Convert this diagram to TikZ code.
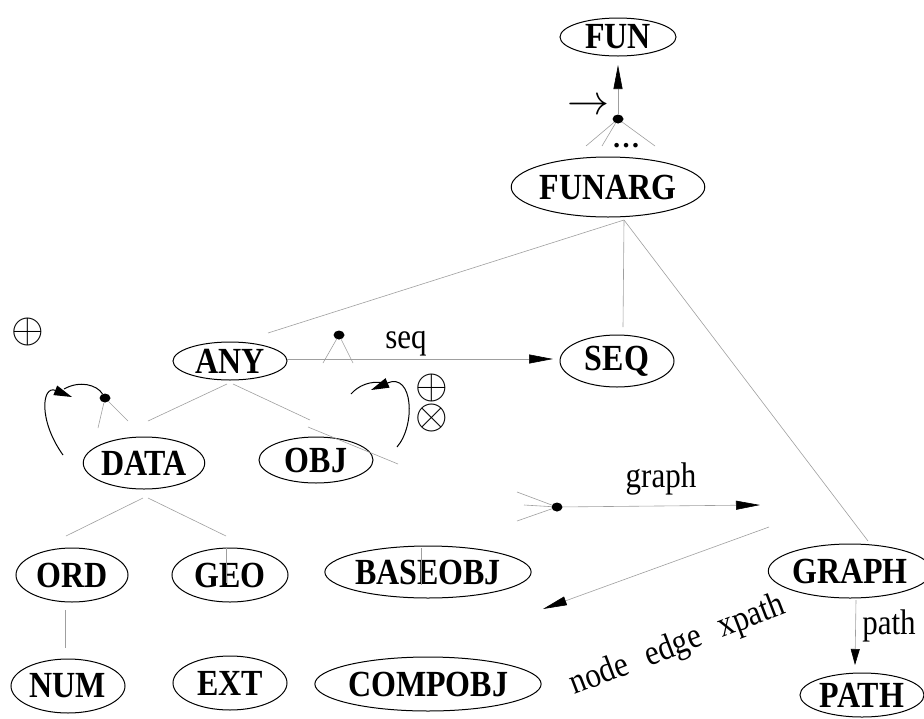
\documentclass[tikz,border=0pt]{standalone}
\usepackage{fontspec}
\usepackage{graphicx}
\setmainfont{Liberation Serif}
\usetikzlibrary{shapes.geometric,arrows.meta}
\newcommand\nodefont{\fontsize{32}{36}\selectfont\bfseries}
\newcommand\lblfont{\fontsize{31}{34}\selectfont}
\newcommand\bigsym[1]{\scalebox{4.2}{\fontsize{10}{12}\selectfont$#1$}}
\newcommand\tall[1]{\scalebox{1}[1.15]{#1}}
\tikzset{
  nd/.style={ellipse, draw, line width=1pt, inner sep=0pt, font=\nodefont},
  hl/.style={draw=gray!75, line width=0.6pt},
  hdot/.style={ellipse, fill=black, minimum width=11pt, minimum height=9pt, inner sep=0pt},
  lbl/.style={font=\lblfont, inner sep=0pt},
  bigtip/.style={-{Triangle[length=24pt,width=9pt,color=black]}},
  looptip/.style={-{Triangle[length=18pt,width=10pt,color=black]}},
  loopline/.style={draw=black, line width=1pt},
}
\begin{document}
\begin{tikzpicture}[x=1pt,y=-1pt]
\useasboundingbox (0,0) rectangle (924,718);
% nodes
\node[nd, minimum width=116pt, minimum height=38pt] (fun) at (618,37) {\tall{FUN}};
\node[nd, minimum width=184pt, minimum height=60pt] (funarg) at (608,187) {\tall{FUNARG}};
\node[nd, minimum width=114pt, minimum height=38pt] (any) at (230,361) {\tall{ANY}};
\node[nd, minimum width=114pt, minimum height=52pt] (seq) at (617,361) {\tall{SEQ}};
\node[nd, minimum width=112pt, minimum height=52pt] (data) at (144,463) {\tall{DATA}};
\node[nd, minimum width=114pt, minimum height=46pt] (obj) at (316,460) {\tall{OBJ}};
\node[nd, minimum width=112pt, minimum height=54pt] (ord) at (72,575) {\tall{ORD}};
\node[nd, minimum width=116pt, minimum height=54pt] (geo) at (230,575) {\tall{GEO}};
\node[nd, minimum width=196pt, minimum height=52pt] (baseobj) at (428,572) {\tall{BASEOBJ}};
\node[nd, minimum width=114pt, minimum height=54pt] (num) at (68,686) {\tall{NUM}};
\node[nd, minimum width=114pt, minimum height=54pt] (ext) at (230,683) {\tall{EXT}};
\node[nd, minimum width=190pt, minimum height=54pt] (compobj) at (428,684) {\tall{COMPOBJ}};
\node[nd, minimum width=148pt, minimum height=54pt] (graph) at (850,571) {\tall{GRAPH}};
\node[nd, minimum width=124pt, minimum height=44pt] (path) at (862,695) {\tall{PATH}};
% hyperedge dots
\node[hdot] (h1) at (618,119) {};
\node[hdot] (h2) at (339,335) {};
\node[hdot] (h3) at (105,398) {};
\node[hdot] (h4) at (557,507) {};
% free ends
\coordinate (funin) at (618,65);
\coordinate (a1) at (586,146);
\coordinate (a2) at (602,146);
\coordinate (a3) at (655,146);
\coordinate (fb) at (624,220);
\coordinate (anyin) at (268,333);
\coordinate (seqin) at (623,327);
\coordinate (graphin) at (868,541);
\coordinate (b1) at (323,363);
\coordinate (b2) at (353,363);
\coordinate (anyout) at (287,359);
\coordinate (seqtip) at (553,359);
\coordinate (c1) at (98,428);
\coordinate (c2) at (128,421);
\coordinate (any1) at (227,384);
\coordinate (any2) at (233,384);
\coordinate (dataup) at (148,421);
\coordinate (objup) at (310,420);
\coordinate (objx1) at (308,427);
\coordinate (objx2) at (398,464);
\coordinate (d1) at (143,498);
\coordinate (d2) at (148,498);
\coordinate (ordup) at (66,536);
\coordinate (geoup) at (226,536);
\coordinate (geov1) at (226,547);
\coordinate (geov2) at (226,583);
\coordinate (basev1) at (421,548);
\coordinate (basev2) at (421,585);
\coordinate (orddn) at (65,610);
\coordinate (numup) at (65,648);
\coordinate (e1) at (517,492);
\coordinate (e2) at (524,505);
\coordinate (e3) at (517,521);
\coordinate (graphtip) at (760,505);
\coordinate (xs) at (769,527);
\coordinate (xt) at (543,609);
\coordinate (gpout) at (856,600);
\coordinate (ptin) at (855,665);
% FUN hyperedge
\draw[hl, bigtip] (h1) -- (funin);
\draw[hl] (h1) -- (a1);
\draw[hl] (h1) -- (a2);
\draw[hl] (h1) -- (a3);
\node[lbl] (arr) at (588,107) {\bigsym{\rightarrow}};
\node[lbl, font=\fontsize{28}{30}\selectfont\bfseries] (dots) at (626,146) {\ldots};
% FUNARG edges
\draw[hl] (fb) -- (anyin);
\draw[hl] (fb) -- (seqin);
\draw[hl] (fb) -- (graphin);
% seq hyperedge
\draw[hl] (h2) -- (b1);
\draw[hl] (h2) -- (b2);
\draw[hl, bigtip] (anyout) -- (seqtip);
\node[lbl] (seqlbl) at (406,344) {\tall{seq}};
% ANY children
\draw[hl] (any1) -- (dataup);
\draw[hl] (any2) -- (objup);
\draw[hl] (objx1) -- (objx2);
% DATA loop
\draw[hl] (h3) -- (c1);
\draw[hl] (h3) -- (c2);
\draw[loopline, looptip] (63,455) .. controls (38,420) and (42,385) .. (72,397);
\draw[loopline] (64,389) .. controls (80,380) and (97,385) .. (h3);
\node[lbl] (oplus1) at (28,332) {\bigsym{\oplus}};
% OBJ loop
\draw[loopline, looptip] (397,447) .. controls (416,425) and (413,372) .. (371,390);
\draw[loopline] (385,383) .. controls (370,380) and (358,386) .. (351,394);
\node[lbl] (oplus2) at (432,388) {\bigsym{\oplus}};
\node[lbl] (otimes) at (432,418) {\bigsym{\otimes}};
% DATA children
\draw[hl] (d1) -- (ordup);
\draw[hl] (d2) -- (geoup);
\draw[hl] (geov1) -- (geov2);
\draw[hl] (basev1) -- (basev2);
\draw[hl] (orddn) -- (numup);
% graph hyperedge
\draw[hl] (e1) -- (h4);
\draw[hl] (e2) -- (h4);
\draw[hl] (e3) -- (h4);
\draw[hl, bigtip] (h4) -- (graphtip);
\node[lbl] (graphlbl) at (661,479) {\tall{graph}};
\draw[hl, bigtip] (xs) -- (xt);
\node[lbl, rotate=21, anchor=base] (nex) at (681,654) {\tall{node\hspace{12pt} edge\hspace{12pt} xpath}};
% path
\draw[hl, -{Triangle[length=16pt,width=9pt,color=black]}] (gpout) -- (ptin);
\node[lbl] (pathlbl) at (889,626) {\tall{path}};
\end{tikzpicture}
\end{document}
